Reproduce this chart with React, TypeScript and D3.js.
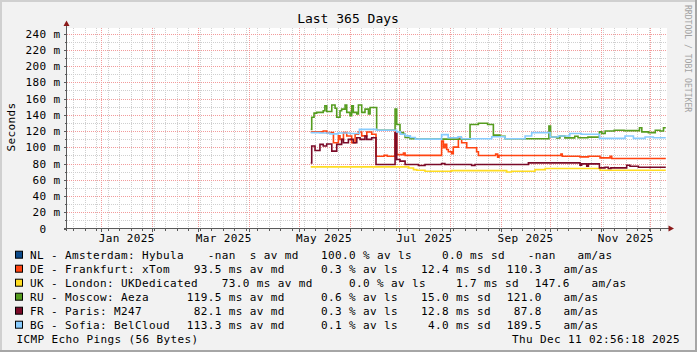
import { useEffect, useRef } from 'react';
import * as d3 from 'd3';

const WIDTH = 697;
const HEIGHT = 352;

const seriesNames = [
    'NL - Amsterdam: Hybula',
    'DE - Frankfurt: xTom',
    'UK - London: UKDedicated',
    'RU - Moscow: Aeza',
    'FR - Paris: M247',
    'BG - Sofia: BelCloud',
];
const seriesColors = ['#0c4a8a', '#ff4411', '#ffdd22', '#559c1f', '#7a0a28', '#88ccff'];

// legend statistics (NaN = no data)
const avgMedian = [NaN, 93.5, 73.0, 119.5, 82.1, 113.3];
const avgLoss = [100.0, 0.3, 0.0, 0.6, 0.3, 0.1];
const avgSdev = [0.0, 12.4, 1.7, 15.0, 12.8, 4.0];
const avgAmas = [NaN, 110.3, 147.6, 121.0, 87.8, 189.5];

// median ping in ms: [day of 2025 (0 = Jan 1), value] at every step change
const nlSteps: [number, number][] = [];
const deSteps: [number, number][] = [
    [127.4, 119], [135, 120], [137.1, 118], [141.2, 105.6], [144.2, 114], [145.2, 109.7],
    [147.3, 118], [149.3, 113.8], [152.3, 105.6], [154.4, 116], [156.4, 118.8], [158.4, 114],
    [161.5, 118.8], [164.5, 116], [167.1, 89], [172, 90], [174, 89], [178.7, 118], [179.7, 91],
    [183.8, 93], [184.8, 90], [207, 107.6], [208.1, 99.4], [209.1, 103.5], [210.1, 97.3],
    [211.1, 94.4], [213.1, 92], [214.1, 100.2], [217.2, 111], [219.2, 105.6], [222.3, 99.4],
    [228.3, 94.4], [229.4, 89.9], [239.9, 91.5], [241.1, 87.8], [241.9, 89.9], [279.6, 91.5],
    [280.4, 89], [291.2, 88.2], [296.3, 89], [303.4, 87], [309.5, 89], [310.5, 86.2],
];
const ukSteps: [number, number][] = [
    [127.4, 75.8], [187, 74.5], [189.9, 72.5], [191.9, 71.7], [196.9, 70.5], [213.1, 71.3],
    [246.6, 69.5], [249.6, 70.5], [263.8, 72.5], [270, 73.8], [303.4, 71.7],
];
const ruSteps: [number, number][] = [
    [127.4, 122], [128, 137], [129.4, 142], [131, 143], [135, 145], [136, 151], [137.1, 144],
    [140.2, 152], [142.2, 148], [143.2, 137], [145.2, 145], [146.2, 147], [148.3, 152],
    [149.3, 143], [151.3, 139], [152.3, 151], [153.3, 143], [155.4, 141], [156.4, 152],
    [158.4, 143], [160.4, 147], [162.5, 141], [163.5, 149], [167.5, 121], [178.7, 147],
    [179.7, 128], [181.7, 118], [183.8, 116], [184.8, 112], [187.8, 110.5], [191.9, 110],
    [224.3, 128], [229.4, 129.5], [235, 128], [238.5, 115], [242.5, 113.5], [245.6, 110.5],
    [272.3, 126], [273.3, 112.6], [277, 111.5], [279, 113.8], [282, 111.5], [288, 113.5],
    [290, 111.8], [296, 112.5], [303, 119], [304.5, 117], [306.5, 120], [312, 121],
    [318, 120.5], [327.4, 124], [328.8, 119], [332.8, 118], [337, 121], [340, 120], [342, 124],
];
const frSteps: [number, number][] = [
    [127.4, 80.8], [128, 101.5], [130, 96], [133, 103.5], [135, 101.5], [137.1, 104],
    [140.2, 95.3], [143.2, 103.5], [146.2, 109.7], [147.3, 105.6], [150.3, 109.7],
    [153.3, 105.6], [155.4, 111.8], [157.4, 109.7], [160.4, 113.8], [161.5, 109.7],
    [164.5, 111.8], [167.1, 78.7], [178.7, 118], [179.7, 85], [181.7, 82.9], [184.8, 78.7],
    [192.9, 77.5], [196.9, 78.7], [207, 80], [209, 78.7], [225.3, 77.5], [227.3, 78.7],
    [259.8, 80.8], [291.2, 77.9], [292.2, 79.5], [295.3, 76.7], [296.3, 79.5], [303, 74.6],
    [306.4, 75.4], [308.4, 73.8], [310, 74.6], [319.6, 77.9], [321.6, 76.7], [326.7, 75.4],
];
const bgSteps: [number, number][] = [
    [127.4, 118], [133, 117.5], [139, 116.5], [144, 117.5], [151, 117], [157, 122],
    [167.5, 121], [179.7, 119], [182, 116], [185, 114], [188, 112], [191, 110], [207, 115.5],
    [211, 111.8], [217, 113], [219, 110.5], [237.5, 113], [245.6, 110.5], [257.8, 113.8],
    [261.8, 118], [273, 112.6], [278, 113.8], [285, 117], [292, 116], [303, 111],
    [318.6, 113.8], [323.7, 111], [330.8, 112.6], [335.8, 111.8],
];
const seriesSteps = [nlSteps, deSteps, ukSteps, ruSteps, frSteps, bgSteps];
const dataEndDay = 343.4;

const yMinorTicks = d3.range(0, 250, 10);
const yMajorTicks = d3.range(0, 250, 20);

const FONT = '"DejaVu Sans Mono", monospace';
const CW = 7; // monospace advance

const fmt = (v: number) => (isNaN(v) ? '-nan' : v.toFixed(1)).padStart(5);

export default function App() {
    const svgRef = useRef<SVGSVGElement>(null);

    useEffect(() => {
        if (!svgRef.current) return;
        const svg = d3.select(svgRef.current);
        svg.selectAll('*').remove();

        const end = new Date(Date.UTC(2025, 11, 11, 2, 56, 18));
        const start = new Date(end.getTime() - 365 * 864e5);
        const jan1 = Date.UTC(2025, 0, 1);
        const dayToDate = (d: number) => new Date(jan1 + d * 864e5);

        const left = 67, right = 667, top = 28.5, bottom = 228.5;
        const x = d3.scaleUtc().domain([start, end]).range([left, right]);
        const y = d3.scaleLinear().domain([0, 246.2]).range([bottom, top]);
        const px = (v: number) => Math.round(v) + 0.5;

        // background and 3d frame
        svg.append('rect').attr('width', WIDTH).attr('height', HEIGHT).attr('fill', '#f2f2f2');
        svg.append('path').attr('d', `M0,0H${WIDTH}V2H2V${HEIGHT}H0Z`).attr('fill', '#d0d0d0');
        svg.append('path').attr('d', `M${WIDTH},${HEIGHT}H0V${HEIGHT - 2}H${WIDTH - 2}V0H${WIDTH}Z`).attr('fill', '#a6a6a6');

        // canvas
        svg.append('rect').attr('x', left).attr('y', 28).attr('width', right - left).attr('height', 200).attr('fill', '#ffffff');

        const grid = svg.append('g').attr('shape-rendering', 'crispEdges').attr('stroke-dasharray', '1,1').attr('stroke-width', 1);

        const weeks = d3.utcSunday.range(start, end);
        const months = d3.utcMonth.range(start, end);

        // minor grid
        weeks.forEach(d => {
            grid.append('line').attr('x1', px(x(d))).attr('x2', px(x(d))).attr('y1', 28).attr('y2', bottom)
                .attr('stroke', '#cfcfcf');
        });
        yMinorTicks.filter(v => v % 20 !== 0).forEach(v => {
            grid.append('line').attr('x1', left).attr('x2', right).attr('y1', px(y(v))).attr('y2', px(y(v)))
                .attr('stroke', '#cfcfcf');
        });
        // major grid
        months.forEach(d => {
            grid.append('line').attr('x1', px(x(d))).attr('x2', px(x(d))).attr('y1', 28).attr('y2', bottom)
                .attr('stroke', '#f29b9b');
        });
        yMajorTicks.filter(v => v > 0).forEach(v => {
            grid.append('line').attr('x1', left).attr('x2', right).attr('y1', px(y(v))).attr('y2', px(y(v)))
                .attr('stroke', '#f29b9b');
        });

        // series
        svg.append('clipPath').attr('id', 'canvas-clip')
            .append('rect').attr('x', left).attr('y', 28).attr('width', right - left).attr('height', 200);
        const line = d3.line<[number, number]>()
            .x(d => x(dayToDate(d[0])))
            .y(d => y(d[1]))
            .curve(d3.curveStepAfter);
        seriesSteps.forEach((steps, i) => {
            if (!steps.length) return;
            const pts: [number, number][] = [...steps, [dataEndDay, steps[steps.length - 1][1]]];
            svg.append('path')
                .attr('clip-path', 'url(#canvas-clip)')
                .attr('d', line(pts)!)
                .attr('fill', 'none')
                .attr('stroke', seriesColors[i])
                .attr('stroke-width', 1.6);
        });

        // axes and ticks
        const axis = svg.append('g').attr('stroke', '#5a5a5a').attr('shape-rendering', 'crispEdges');
        axis.append('line').attr('x1', 64).attr('x2', 670).attr('y1', bottom).attr('y2', bottom);
        axis.append('line').attr('x1', 66.5).attr('x2', 66.5).attr('y1', 231).attr('y2', 25);
        yMinorTicks.forEach(v => {
            const len = v % 20 === 0 ? 3 : 2;
            axis.append('line').attr('x1', 66.5 - len).attr('x2', 66.5).attr('y1', px(y(v))).attr('y2', px(y(v)));
        });
        weeks.forEach(d => {
            axis.append('line').attr('x1', px(x(d))).attr('x2', px(x(d))).attr('y1', bottom).attr('y2', bottom + 2);
        });
        months.forEach(d => {
            axis.append('line').attr('x1', px(x(d))).attr('x2', px(x(d))).attr('y1', bottom).attr('y2', bottom + 3);
        });
        svg.append('path').attr('d', 'M66.5,20.5L69.5,26L63.5,26Z').attr('fill', '#8b1a1a');
        svg.append('path').attr('d', `M674,${bottom}L668.5,${bottom - 3}L668.5,${bottom + 3}Z`).attr('fill', '#8b1a1a');

        const text = (xx: number, yy: number, s: string, size = 11) =>
            svg.append('text')
                .attr('x', xx).attr('y', yy)
                .attr('font-family', FONT)
                .attr('font-size', size)
                .attr('letter-spacing', size === 11 ? 0.38 : 0)
                .attr('fill', '#000')
                .attr('xml:space', 'preserve')
                .style('white-space', 'pre')
                .text(s);

        // y tick labels
        yMajorTicks.forEach(v => {
            text(v === 0 ? 46.5 : 60.5, y(v) + 4, v === 0 ? '0' : `${v} m`).attr('text-anchor', 'end');
        });

        // x labels every second month, centred in the month
        months.filter(d => d.getUTCMonth() % 2 === 0).forEach(d => {
            const mid = (x(d) + x(d3.utcMonth.offset(d, 1))) / 2;
            text(mid, 241.5, d3.utcFormat('%b %Y')(d)).attr('text-anchor', 'middle');
        });

        // titles
        text(348, 23.3, 'Last 365 Days', 13).attr('text-anchor', 'middle');
        text(0, 0, 'Seconds').attr('text-anchor', 'middle').attr('transform', 'translate(15,127) rotate(-90)');
        svg.append('text')
            .attr('transform', 'translate(685,5) rotate(90)')
            .attr('font-family', FONT).attr('font-size', 8.1).attr('fill', '#a2a2a2')
            .text('RRDTOOL / TOBI OETIKER');

        // legend
        seriesNames.forEach((name, i) => {
            const base = 258.7 + i * 14;
            svg.append('rect')
                .attr('x', 15.5).attr('y', base - 7.5).attr('width', 7).attr('height', 7)
                .attr('fill', seriesColors[i]).attr('stroke', '#000').attr('stroke-width', 1);
            const e2 = 30 + CW * Math.max(20, name.length) + 16.7;
            const e3 = e2 + 120.3;
            const e4 = e3 + 107;
            const e5 = e4 + 92.7;
            const e6 = e5 + 56.9;
            text(30, base, name);
            text(e2, base, `${fmt(avgMedian[i])} ${isNaN(avgMedian[i]) ? ' ' : 'm'}s av md`);
            text(e3, base, `${fmt(avgLoss[i])} % av ls`);
            text(e4, base, `${fmt(avgSdev[i])} ms sd`);
            text(e5, base, fmt(avgAmas[i]));
            text(e6, base, 'am/as');
        });
        text(16.5, 342.5, 'ICMP Echo Pings (56 Bytes)');
        text(680, 342.5, 'Thu Dec 11 02:56:18 2025').attr('text-anchor', 'end');
    }, []);

    return (
        <svg
            ref={svgRef}
            width={WIDTH}
            height={HEIGHT}
            style={{ position: 'absolute', left: 0, top: 0, display: 'block' }}
        />
    );
}
